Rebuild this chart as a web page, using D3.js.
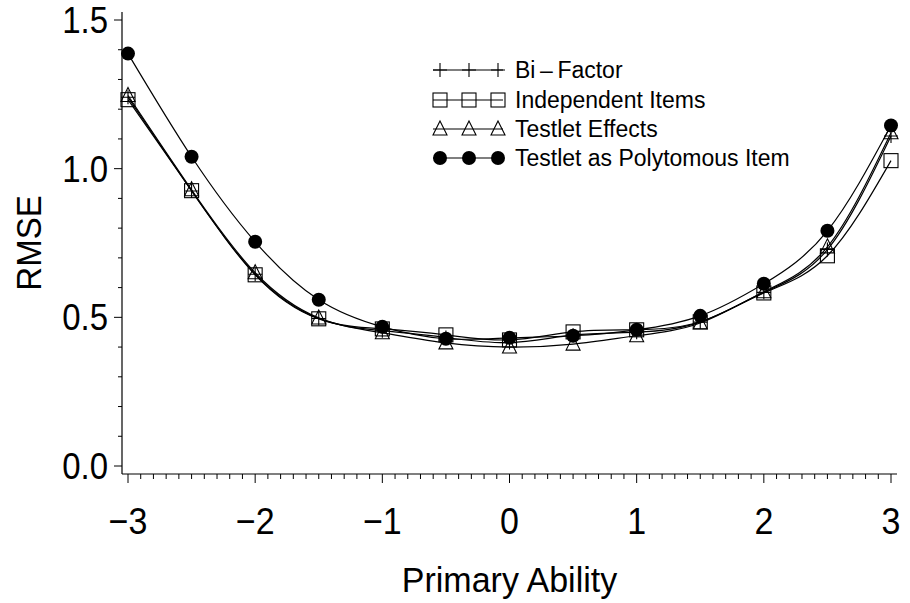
<!DOCTYPE html>
<html>
<head>
<meta charset="utf-8">
<script src="https://cdn.jsdelivr.net/npm/d3@7"></script>
<style>
  body { margin: 0; background: #fff; }
  svg text { font-family: "Liberation Sans", Arial, sans-serif; fill: #000; }
</style>
</head>
<body>
<div id="chart"></div>
<script>
// ability points
var abilities = [-3, -2.5, -2, -1.5, -1, -0.5, 0, 0.5, 1, 1.5, 2, 2.5, 3];

// RMSE per method
var biFactor    = [1.240, 0.925, 0.645, 0.496, 0.455, 0.432, 0.415, 0.440, 0.450, 0.484, 0.584, 0.728, 1.110];
var independent = [1.232, 0.926, 0.643, 0.495, 0.461, 0.441, 0.424, 0.451, 0.458, 0.485, 0.582, 0.707, 1.027];
var testletEff  = [1.246, 0.929, 0.650, 0.498, 0.448, 0.414, 0.400, 0.410, 0.438, 0.481, 0.586, 0.737, 1.121];
var polytomous  = [1.387, 1.040, 0.754, 0.559, 0.468, 0.428, 0.431, 0.438, 0.458, 0.505, 0.613, 0.791, 1.145];

var seriesNames = ["Bi\u2009\u2013\u2009Factor", "Independent Items", "Testlet Effects", "Testlet as Polytomous Item"];
var seriesMarks = ["plus", "square", "triangle", "circle"];
var seriesVals = [biFactor, independent, testletEff, polytomous];

var xTicks = [-3, -2, -1, 0, 1, 2, 3];
var yTicks = [0.0, 0.5, 1.0, 1.5];

var width = 910, height = 603;

var svg = d3.select("#chart").append("svg")
    .attr("width", width)
    .attr("height", height);

var xScale = d3.scaleLinear().domain([-3, 3]).range([128, 891]);
var yScale = d3.scaleLinear().domain([0, 1.5]).range([466, 20]);

var axisX0 = 122, axisY0 = 474;

// axis lines
svg.append("line")
    .attr("x1", axisX0).attr("x2", axisX0)
    .attr("y1", 12).attr("y2", axisY0)
    .attr("stroke", "#000").attr("stroke-width", 1.2);
svg.append("line")
    .attr("x1", axisX0).attr("x2", 897)
    .attr("y1", axisY0).attr("y2", axisY0)
    .attr("stroke", "#000").attr("stroke-width", 1.2);

// x ticks (minor every 0.1)
var xMinor = d3.range(-30, 31).map(function(d) { return d / 10; });
svg.append("g").selectAll("line")
    .data(xMinor)
    .enter().append("line")
    .attr("x1", function(d) { return xScale(d); })
    .attr("x2", function(d) { return xScale(d); })
    .attr("y1", axisY0)
    .attr("y2", function(d) { return Math.abs(d - Math.round(d)) < 1e-6 ? axisY0 + 9 : axisY0 + 5; })
    .attr("stroke", "#000").attr("stroke-width", 1);

svg.append("g").selectAll("text")
    .data(xTicks)
    .enter().append("text")
    .attr("transform", function(d) { return "translate(" + xScale(d) + ",534) scale(1,1.1)"; })
    .attr("text-anchor", "middle")
    .attr("font-size", 34)
    .text(function(d) { return d < 0 ? "\u2212" + Math.abs(d) : d; });

// y ticks (minor every 0.1)
var yMinor = d3.range(0, 16).map(function(d) { return d / 10; });
svg.append("g").selectAll("line")
    .data(yMinor)
    .enter().append("line")
    .attr("y1", function(d) { return yScale(d); })
    .attr("y2", function(d) { return yScale(d); })
    .attr("x1", axisX0)
    .attr("x2", function(d) { return Math.round(d * 10) % 5 === 0 ? axisX0 - 8 : axisX0 - 4; })
    .attr("stroke", "#000").attr("stroke-width", 1);

svg.append("g").selectAll("text")
    .data(yTicks)
    .enter().append("text")
    .attr("transform", function(d) { return "translate(108," + (yScale(d) + 13) + ") scale(1,1.1)"; })
    .attr("text-anchor", "end")
    .attr("font-size", 33)
    .text(function(d) { return d3.format(".1f")(d); });

// axis titles
svg.append("text")
    .attr("transform", "translate(" + xScale(0) + ",592) scale(1,1.05)")
    .attr("text-anchor", "middle")
    .attr("font-size", 34)
    .text("Primary Ability");

svg.append("text")
    .attr("transform", "translate(41,243) rotate(-90) scale(1,1.05)")
    .attr("text-anchor", "middle")
    .attr("font-size", 33)
    .text("RMSE");

// curves
var line = d3.line()
    .x(function(d) { return xScale(d.x); })
    .y(function(d) { return yScale(d.y); })
    .curve(d3.curveNatural);

function drawMark(g, type, cx, cy) {
    if (type === "circle") {
        g.append("circle").attr("cx", cx).attr("cy", cy).attr("r", 7).attr("fill", "#000");
    } else if (type === "square") {
        g.append("rect").attr("x", cx - 7).attr("y", cy - 7).attr("width", 14).attr("height", 14)
            .attr("fill", "none").attr("stroke", "#000").attr("stroke-width", 1.1);
    } else if (type === "triangle") {
        g.append("path")
            .attr("d", "M" + cx + "," + (cy - 8) + "L" + (cx + 7) + "," + (cy + 6) + "L" + (cx - 7) + "," + (cy + 6) + "Z")
            .attr("fill", "none").attr("stroke", "#000").attr("stroke-width", 1.1);
    } else {
        g.append("path")
            .attr("d", "M" + (cx - 7) + "," + cy + "H" + (cx + 7) + "M" + cx + "," + (cy - 7) + "V" + (cy + 7))
            .attr("fill", "none").attr("stroke", "#000").attr("stroke-width", 1.1);
    }
}

seriesVals.forEach(function(vals, i) {
    var pts = abilities.map(function(a, j) { return {x: a, y: vals[j]}; });
    svg.append("path")
        .attr("d", line(pts))
        .attr("fill", "none")
        .attr("stroke", "#000")
        .attr("stroke-width", 1.2);
    var g = svg.append("g");
    pts.forEach(function(p) {
        drawMark(g, seriesMarks[i], xScale(p.x), yScale(p.y));
    });
});

// legend
var legendY = [70, 100, 129, 158];
seriesNames.forEach(function(name, i) {
    var g = svg.append("g");
    g.append("line")
        .attr("x1", 433).attr("x2", 503)
        .attr("y1", legendY[i]).attr("y2", legendY[i])
        .attr("stroke", "#000").attr("stroke-width", 1.2);
    [440, 469, 498].forEach(function(mx) {
        drawMark(g, seriesMarks[i], mx, legendY[i]);
    });
    g.append("text")
        .attr("transform", "translate(515," + (legendY[i] + 8) + ") scale(1,1.08)")
        .attr("font-size", 23)
        .text(name);
});
</script>
</body>
</html>
